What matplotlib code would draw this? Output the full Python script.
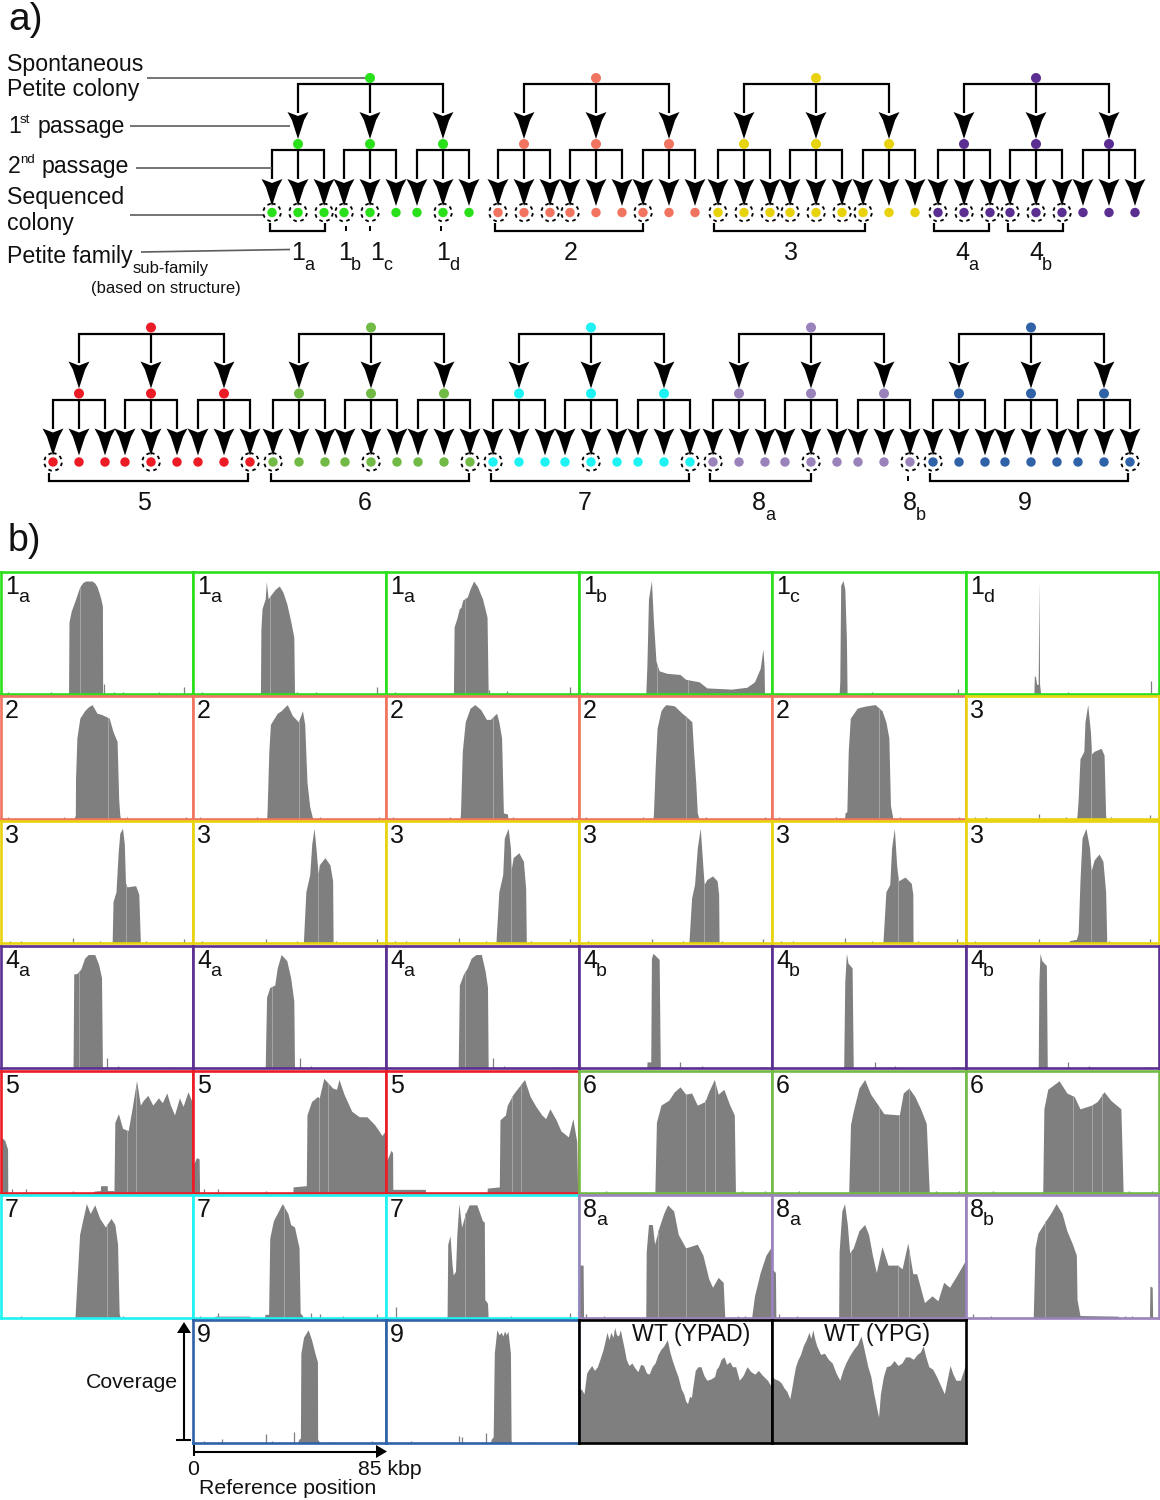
import numpy as np
import matplotlib
matplotlib.use('Agg')
import matplotlib.pyplot as plt
from matplotlib.patches import Polygon, Circle

plt.rcParams['font.family'] = ['Liberation Sans', 'DejaVu Sans']

# family colours
GREEN = '#2ae01a'
SALMON = '#f0745f'
YELLOW = '#e8d20e'
PURPLE = '#5b2e92'
RED = '#ec1c26'
OLIVE = '#72ba46'
CYAN = '#1ff2f2'
LAVENDER = '#9a82bb'
BLUE = '#2f62a7'
BLACK = '#000000'
GRAY = '#7f7f7f'
STREAK = '#a6a6a6'

# family trees: root x, colour, which sequenced colonies are circled
tree_roots = [370, 596, 816, 1036, 151, 371, 591, 811, 1031]
tree_rows = [0, 0, 0, 0, 1, 1, 1, 1, 1]
tree_colors = [GREEN, SALMON, YELLOW, PURPLE, RED, OLIVE, CYAN, LAVENDER, BLUE]
tree_circled = [[0, 1, 2, 3, 4, 7], [0, 1, 2, 3, 6], [0, 1, 2, 3, 4, 5, 6],
                [0, 1, 2, 3, 4, 5], [0, 4, 8], [0, 4, 8], [0, 4, 8], [0, 4, 8], [0, 8]]

# brackets under the sequenced colonies: row, x start, x end
brackets = [(0, 270, 325), (0, 346, 346), (0, 370, 370), (0, 441, 441), (0, 495, 643),
            (0, 714, 865), (0, 934, 989), (0, 1008, 1063),
            (1, 49, 248), (1, 271, 469), (1, 491, 689), (1, 710, 811), (1, 908, 908), (1, 930, 1128)]

# coverage profiles, (position in kbp, coverage in % of panel height)
p_1a_1 = [(29.9, 0), (30.1, 59), (31.1, 68), (32.3, 74), (33.6, 81), (34.5, 86), (35.3, 89), (36.3, 91.5), (37.5, 92.6), (40.3, 92.6), (41.5, 91), (42.5, 88), (43.4, 83), (44.2, 78), (44.9, 72), (45, 0)]
p_1a_2 = [(29.7, 0), (29.9, 53), (30.4, 70), (31.8, 78), (32.3, 92), (33.1, 78), (34.6, 82), (36.3, 86), (38, 88.5), (39.6, 83.5), (41.3, 74), (43, 60), (44.4, 46.6), (44.7, 0)]
p_1a_3 = [(29.7, 0), (30, 55), (31.2, 62), (32.3, 70), (33, 71), (33.8, 77), (35.8, 79.5), (37, 86), (38.6, 92.6), (40.3, 88), (42.5, 78), (44.5, 63), (45, 0)]
p_1b = [(29.4, 0), (29.9, 23), (30.6, 78), (31.9, 93), (32.8, 59), (33.9, 27), (35.3, 19), (38.6, 17), (44.5, 16), (47, 12), (52.9, 10), (56.3, 5), (67.2, 4), (73.9, 5.5), (77.3, 10), (79.8, 21), (81, 37), (81.5, 23), (81.7, 0)]
p_1c = [(29.4, 0), (29.7, 10), (30.1, 89), (31.1, 93), (31.9, 86), (32.6, 45), (32.9, 0)]
p_1d = [(29.9, 0), (30.1, 15), (30.6, 14), (31.1, 8), (31.8, 8), (32.1, 93), (32.4, 8), (32.9, 0)]

p_2_1 = [(32.2, 0), (32.9, 3), (33, 33), (33.6, 66), (34.9, 82), (37, 88), (38.6, 91), (40.3, 93), (42.5, 86), (44.5, 85), (47.9, 82), (49.6, 71), (51.4, 63), (52.1, 16), (52.6, 3), (53, 0)]
p_2_2 = [(32.4, 0), (32.6, 5), (33.4, 55), (34.1, 77), (37.1, 86), (38.8, 88), (41.5, 93), (43.8, 84), (46.4, 79), (48.2, 88), (49.2, 77), (50.2, 30), (51.4, 10), (52.6, 1), (53, 0)]
p_2_3 = [(32.6, 0), (32.8, 5), (33.6, 55), (34.9, 79), (37, 90), (39.1, 93), (41.7, 89), (44.2, 81), (46, 81), (48.7, 86), (49.7, 79), (50.9, 66), (51.7, 5), (53.5, 4), (53.7, 0)]
p_2_4 = [(32.6, 0), (32.8, 5), (33.6, 44), (34.4, 74), (36.1, 88), (37.2, 91), (38.3, 93), (42, 92), (45.4, 86), (48, 82), (49.7, 79), (50.4, 57), (51.4, 30), (52.1, 5), (52.9, 0)]
p_2_5 = [(31.8, 0), (32, 5), (32.8, 6), (33.4, 55), (34.3, 82), (37.3, 90), (39, 91), (41.5, 92), (45.2, 93), (48.2, 88), (49.9, 79), (51.2, 66), (51.9, 11), (52.9, 1), (53.2, 0)]
p_3_1 = [(48.6, 0), (48.9, 3), (49.4, 16), (50.2, 49), (51.9, 55), (52.4, 79), (53.6, 93), (54.8, 71), (55.3, 53), (56.4, 55), (59.5, 57.5), (60.8, 52), (61.5, 3), (61.7, 0)]

p_3_2 = [(49.2, 0), (49.6, 34), (50.9, 42), (51.9, 75), (52.6, 90), (53.8, 94), (54.6, 81), (55.1, 49), (55.8, 46), (59.6, 47), (61, 40), (61.7, 0)]
p_3_3 = [(48.6, 0), (49.7, 42), (51.4, 56), (52.3, 81), (53.3, 94), (54.3, 75), (55.1, 56), (55.6, 64), (58.1, 70), (60.3, 64), (61.5, 51), (61.7, 0)]
p_3_4 = [(48.4, 0), (49.7, 42), (51.4, 56), (52.1, 86), (53.8, 94), (54.8, 78), (55.1, 60), (56, 70), (58.5, 74), (60.5, 67), (61.5, 45), (61.8, 0)]
p_3_5 = [(48.4, 0), (49.6, 37), (50.9, 48), (52.1, 78), (53.4, 94), (54.4, 67), (55.1, 48), (56.3, 52), (58.8, 55), (60.8, 51), (61.5, 40), (61.7, 0)]
p_3_6 = [(48.6, 0), (49.9, 42), (51.6, 48), (52.4, 78), (53.6, 94), (54.6, 64), (55.4, 51), (58.3, 54), (61, 49), (61.7, 40), (61.8, 0)]
p_3_7 = [(45.4, 0), (45.6, 2), (48.6, 3), (49.4, 8), (50.2, 51), (51.1, 86), (52.8, 94), (54.4, 78), (55.1, 59), (56.4, 68), (58.6, 73), (60.3, 67), (61.5, 42), (62, 0)]

p_4a_1 = [(31.9, 0), (32.2, 77), (33.6, 77.5), (35.3, 81), (37, 90), (38.6, 93), (41.5, 93), (43.2, 85), (44.5, 74), (44.9, 0)]
p_4a_2 = [(31.8, 0), (32.4, 58), (33.8, 66), (36, 68), (37.1, 82), (38.8, 93), (41.3, 88), (43, 74), (44.4, 55), (44.7, 0)]
p_4a_3 = [(31.8, 0), (32.3, 68), (34.1, 77), (35.8, 82), (37.5, 90), (39.6, 93), (42, 93), (43.7, 79), (44.7, 66), (45, 0)]
p_4b_1 = [(29.8, 0), (30, 5), (31.6, 5), (31.9, 90), (32.6, 94), (35.3, 89), (35.8, 0)]
p_4b_2 = [(31.4, 0), (31.9, 71), (32.6, 94), (33.3, 86), (35.1, 82), (35.6, 0)]
p_4b_3 = [(31.8, 0), (32.1, 71), (32.6, 94), (33.4, 88), (35.4, 84), (35.8, 0)]

p_5_1 = [(0, 46), (1.7, 43), (2.9, 36), (3, 0), (41, 0), (41.1, 1.5), (44, 2), (44.1, 6), (47, 6), (47.1, 2), (49.9, 2), (50, 0), (50.4, 58), (52, 65), (53.8, 53), (56.3, 51), (58, 69), (60, 92), (61.7, 72), (63, 76), (65, 80), (67.2, 72), (69.7, 78), (71.4, 74), (73.4, 82), (75, 72), (76.8, 64), (79, 78), (80.6, 71), (82.8, 83), (84.5, 75), (85, 72)]
p_5_2 = [(0, 22), (1.5, 29), (2.7, 28), (2.9, 0), (44, 0), (44.1, 5), (49.9, 6), (50.2, 64), (52.2, 75), (54.8, 79), (55.6, 78), (57.6, 94), (61.5, 86), (63.2, 85), (64.3, 93), (66.5, 81), (69.9, 67), (73.2, 62.5), (76.6, 62.5), (80, 56), (83.3, 47), (84.2, 50), (84.7, 45), (85, 0)]
p_5_3 = [(0, 25), (2.2, 35), (2.9, 33), (3, 3), (17.3, 3), (17.4, 0), (44.5, 0), (44.6, 4), (49.9, 5), (50.2, 60), (52.6, 64), (53.4, 72), (56, 81), (61, 93), (63.5, 79), (66, 71), (68.6, 64), (70.3, 61), (72.2, 69), (74.9, 60), (77, 51), (80.3, 46), (82.3, 61), (84, 42), (84.4, 0)]
p_6_1 = [(33.4, 0), (34.1, 58), (36.1, 72), (39.5, 76), (42, 83), (44.5, 87), (47, 81), (49.6, 82), (52.1, 72), (55.5, 75), (57.1, 83), (59.6, 93), (61.3, 81), (63.8, 85), (66.4, 72), (68.4, 64), (68.9, 0)]
p_6_2 = [(33.6, 0), (34.4, 56), (35.6, 67), (38.1, 86), (40.6, 93), (43.2, 81), (46.5, 72), (49, 65), (55.8, 64), (57.5, 82), (60, 86), (62.6, 79), (65.1, 69), (67.6, 57), (68.4, 22), (68.9, 0)]
p_6_3 = [(33.8, 0), (34.3, 69), (36, 85), (41, 92), (44.4, 82), (47.7, 79), (50.2, 69), (55.3, 72), (57.8, 75), (60.8, 83), (63.7, 76), (68.2, 69), (68.7, 36), (69.2, 0)]

p_7_1 = [(32.6, 0), (32.8, 2), (33.6, 29), (34.8, 68), (36.1, 79), (37.8, 93), (39.5, 85), (41.5, 92), (43.7, 81), (46.2, 74), (48.7, 81), (50.4, 76), (51.6, 60), (52.3, 4), (52.8, 0)]
p_7_2 = [(9.6, 0), (9.7, 1.5), (25, 1.5), (25.1, 0), (31.5, 0), (31.7, 3), (33.3, 3), (33.8, 65), (35.4, 79), (39.3, 93), (41.8, 85), (43, 76), (44.7, 74), (46.7, 57), (47.2, 4), (48.2, 2), (48.4, 0)]
p_7_3 = [(26.9, 0), (27.2, 60), (28.2, 67), (29.1, 43), (29.6, 35), (30.6, 38), (31.2, 68), (32.1, 93), (33.3, 74), (35, 85), (36.6, 92), (40, 92), (42.5, 79), (43.3, 78), (43.5, 15), (44.7, 12), (45, 0)]
p_8a_1 = [(0, 43), (1.8, 43), (2, 0), (29.4, 0), (29.6, 54), (30.6, 76), (32.3, 76), (33.3, 60), (35.3, 74), (37.3, 85), (39, 92), (41.7, 87), (43.7, 68), (47, 57), (52.1, 60), (54.6, 51), (57.1, 32), (58.8, 25), (61.3, 33), (63.5, 29), (64.2, 0), (76, 0), (77.3, 18), (79.8, 37), (82.3, 51), (84.4, 57), (85, 45)]
p_8a_2 = [(0, 40), (1.5, 37), (1.7, 0), (29.2, 0), (29.4, 54), (30.6, 87), (31.8, 93), (33, 76), (34, 53), (35.6, 57), (38.1, 71), (40.6, 76), (42.3, 68), (44, 51), (45.7, 37), (48.2, 58), (50.8, 43), (55, 43), (57, 40), (59.5, 61), (61.7, 36), (63.4, 36), (66.8, 12.5), (70.1, 18), (72.7, 14), (75.2, 29), (77.8, 25), (81.1, 35), (84.5, 46), (85, 45)]
p_8b = [(29.6, 0), (30.4, 57), (31.7, 69), (35.1, 79), (37.6, 86), (39.7, 93), (42.3, 85), (44.4, 71), (46.9, 60), (48.6, 51), (48.9, 15), (50.2, 2), (67, 1.5), (67.1, 0), (80.8, 0), (81, 26), (82, 25), (82.2, 0)]

p_9_1 = [(46, 0), (46.6, 3), (47.3, 4), (47.5, 73), (48.7, 86), (50.7, 92), (52.2, 84), (53.7, 73), (54.8, 66), (54.9, 3), (56, 0)]
p_9_2 = [(46, 0), (46.3, 3), (47.2, 5), (47.7, 73), (48.8, 92), (49.8, 88), (50.7, 90), (51.5, 87), (52.2, 91), (53, 88), (53.7, 91), (54.8, 73), (55.1, 2), (55.4, 0)]
p_wt_ypad = [(0, 43), (1, 44), (2.2, 40), (3.4, 57), (4.4, 60), (5.6, 63), (6.8, 59), (8.1, 62), (9.2, 68), (10.6, 76), (11.5, 83), (12.3, 90), (13.2, 84), (14, 90), (15, 86), (15.7, 94), (16.5, 88), (17.4, 87), (18.2, 92), (19.1, 84), (20, 76), (20.8, 68), (22, 63), (23.3, 65), (24.6, 61), (25.9, 58), (27.2, 64), (28.4, 63), (29.7, 57), (30.9, 56), (32.2, 62), (33.5, 65), (34.8, 72), (36, 76), (37.4, 79), (38.9, 84), (40, 74), (41.1, 67), (42.4, 60), (43.6, 54), (45, 44), (46.1, 40), (47, 34), (47.8, 32), (48.7, 38), (49.5, 37), (50.3, 48), (51.2, 59), (52.4, 62), (53.7, 62), (55, 55), (56.3, 51), (58, 52), (59.7, 54), (60.5, 60), (61.4, 62), (62.6, 68), (63.9, 70), (65, 64), (66.4, 66), (67.6, 62), (69, 62), (70.6, 51), (72.3, 55), (74, 62), (75.7, 58), (77.4, 56), (79, 59), (80.8, 55), (83, 51), (85, 45)]
p_wt_ypg = [(0, 54), (1.3, 52), (2.7, 51), (4, 49), (5.2, 45), (6.5, 42), (7.8, 36), (8.6, 44), (9.5, 54), (10.3, 62), (11.2, 67), (12.5, 72), (13.7, 79), (15, 84), (16.2, 90), (17, 85), (17.9, 92), (18.8, 84), (19.6, 79), (21.3, 72), (23, 73), (24.7, 68), (26.4, 65), (28, 57), (29.7, 51), (31, 59), (32.3, 65), (34, 71), (35.7, 76), (37.4, 80), (39, 87), (39.9, 80), (40.7, 73), (42, 62), (43.3, 54), (44.6, 40), (45.8, 29), (46.7, 21), (47.5, 40), (48.8, 54), (50.1, 62), (51.8, 63), (53.5, 67), (55.2, 63), (56.9, 65), (58.5, 70), (60.2, 70), (61.9, 68), (63.6, 72), (65, 74), (66.2, 79), (67.4, 70), (68.7, 62), (70.4, 60), (72.1, 54), (73.8, 47), (75.5, 40), (76.8, 52), (78, 63), (79.3, 56), (80.6, 51), (82.5, 51), (83.8, 58), (85, 65)]

# spikes off the baseline: (kbp, %)
s_1a_1 = [(3, 1.5), (22, 1.5), (45.7, 8), (50, 2), (54, 2), (70, 1.5), (81.2, 6)]
s_1a_2 = [(4, 1.5), (46, 2), (54, 2), (81.2, 6)]
s_1a_3 = [(4, 1.5), (45.5, 3), (53.5, 2.5), (81.2, 6)]
s_1b = [(3.5, 2), (60, 1)]
s_1c = [(4, 1), (44, 1.5), (81.5, 4)]
s_1d = [(45, 1.5), (81.5, 11)]
s_2 = [(3, 2), (28, 2), (56, 1.5), (82, 1.5)]
s_3a = [(4, 2), (9, 2), (32, 4), (44, 2), (64, 1.5), (81, 3)]
s_3b = [(4, 2), (32, 3), (46, 2), (63, 2), (81, 3)]
s_4a = [(43, 0), (47, 8), (52, 1.5), (74, 1)]
s_4b_1 = [(44.5, 5), (54, 2), (81, 1)]
s_4b_2 = [(45, 5), (54, 2), (81, 1)]
s_5 = [(5, 3), (11, 3), (32, 2)]
s_6 = [(3, 1), (12, 1.5), (72, 2), (82, 1.5)]
s_7_1 = [(4, 1), (9, 1.5), (54, 1.5), (70, 1)]
s_7_2 = [(3, 2), (11, 4), (52, 4), (56, 3), (66, 2), (81, 3)]
s_7_3 = [(4.2, 9), (55, 1.5), (66, 1), (81, 4)]
s_8 = [(3, 3), (11, 1.5), (70, 1.5), (73, 1.5)]
s_9_1 = [(5, 1.5), (12.8, 3), (32, 7), (35, 2), (44.5, 9), (62, 1), (79, 1.5)]
s_9_2 = [(11, 2), (32, 6), (33.5, 5), (44.2, 8), (65, 1), (80, 1)]
s_none = []

# light vertical streaks inside the pileups (kbp)
panels = [
    # row, col, digit, subscript, colour, profile, spikes, streaks
    (0, 0, '1', 'a', GREEN, p_1a_1, s_1a_1, [35]),
    (0, 1, '1', 'a', GREEN, p_1a_2, s_1a_2, [33.8]),
    (0, 2, '1', 'a', GREEN, p_1a_3, s_1a_3, [35]),
    (0, 3, '1', 'b', GREEN, p_1b, s_1b, [34.5, 48]),
    (0, 4, '1', 'c', GREEN, p_1c, s_1c, []),
    (0, 5, '1', 'd', GREEN, p_1d, s_1d, []),
    (1, 0, '2', '', SALMON, p_2_1, s_2, [47.4]),
    (1, 1, '2', '', SALMON, p_2_2, s_2, [46.7]),
    (1, 2, '2', '', SALMON, p_2_3, s_2, [47]),
    (1, 3, '2', '', SALMON, p_2_4, s_2, [47]),
    (1, 4, '2', '', SALMON, p_2_5, s_2, [47]),
    (1, 5, '3', '', YELLOW, p_3_1, s_3a, [55.2]),
    (2, 0, '3', '', YELLOW, p_3_2, s_3a, [55.2]),
    (2, 1, '3', '', YELLOW, p_3_3, s_3b, [55.2]),
    (2, 2, '3', '', YELLOW, p_3_4, s_3a, [55.2]),
    (2, 3, '3', '', YELLOW, p_3_5, s_3b, [55.2]),
    (2, 4, '3', '', YELLOW, p_3_6, s_3a, [55.2]),
    (2, 5, '3', '', YELLOW, p_3_7, s_3b, [55.2]),
    (3, 0, '4', 'a', PURPLE, p_4a_1, s_4a, [34.6]),
    (3, 1, '4', 'a', PURPLE, p_4a_2, s_4a, [34.6]),
    (3, 2, '4', 'a', PURPLE, p_4a_3, s_4a, [34.6]),
    (3, 3, '4', 'b', PURPLE, p_4b_1, s_4b_1, []),
    (3, 4, '4', 'b', PURPLE, p_4b_2, s_4b_2, []),
    (3, 5, '4', 'b', PURPLE, p_4b_3, s_4b_2, []),
    (4, 0, '5', '', RED, p_5_1, s_5, [56, 59.6]),
    (4, 1, '5', '', RED, p_5_2, s_5, [55.6, 59.5]),
    (4, 2, '5', '', RED, p_5_3, s_none, [55.5, 59.6]),
    (4, 3, '6', '', OLIVE, p_6_1, s_6, [47, 55.7, 60]),
    (4, 4, '6', '', OLIVE, p_6_2, s_6, [47, 55.7, 60]),
    (4, 5, '6', '', OLIVE, p_6_3, s_6, [47, 55.7, 60]),
    (5, 0, '7', '', CYAN, p_7_1, s_7_1, [47]),
    (5, 1, '7', '', CYAN, p_7_2, s_7_2, [40]),
    (5, 2, '7', '', CYAN, p_7_3, s_7_3, [35]),
    (5, 3, '8', 'a', LAVENDER, p_8a_1, s_8, [35, 47]),
    (5, 4, '8', 'a', LAVENDER, p_8a_2, s_8, [34.5, 55, 60]),
    (5, 5, '8', 'b', LAVENDER, p_8b, s_8, [35]),
    (6, 1, '9', '', BLUE, p_9_1, s_9_1, []),
    (6, 2, '9', '', BLUE, p_9_2, s_9_2, []),
    (6, 3, '', '', BLACK, p_wt_ypad, s_none, []),
    (6, 4, '', '', BLACK, p_wt_ypg, s_none, []),
]

col_edges = [1, 193, 386, 579, 772, 966, 1159]
row_tops = [572, 696, 821, 946, 1071, 1195, 1320]
row_bottoms = [694, 819, 943, 1068, 1193, 1318, 1443]

W, H = 1160, 1500
fig = plt.figure(figsize=(W / 100, H / 100), dpi=100)

# overlay in pixel coordinates for the tree and the labels
ax = fig.add_axes([0, 0, 1, 1], zorder=10)
ax.set_xlim(0, W)
ax.set_ylim(H, 0)
ax.axis('off')
ax.patch.set_alpha(0)


def txt(x, y, s, size=16.7, ha='left', color='#111111'):
    ax.text(x, y, s, fontsize=size, ha=ha, va='baseline', color=color)


def arrowhead(x, y_top, width=21, length=27, notch=4):
    # barbed head, the flanks bow in a little below the wing tips
    pts = [(x - width / 2, y_top), (x, y_top + notch), (x + width / 2, y_top),
           (x + width * 0.29, y_top + length * 0.3), (x, y_top + length),
           (x - width * 0.29, y_top + length * 0.3)]
    ax.add_patch(Polygon(pts, closed=True, fc='black', ec='none', zorder=3))


def line(xs, ys, lw=1.6, color='black', **kw):
    ax.plot(xs, ys, color=color, lw=lw, solid_capstyle='butt', solid_joinstyle='miter', **kw)


def draw_tree(root, row, color, circled):
    dy = 250 * row
    if row == 1:
        dy = 249.5
    node = dict(fc=color, ec='none', zorder=5)
    ax.add_patch(Circle((root, 78 + dy), 5, **node))
    line([root - 72, root - 72, root + 73, root + 73], [113 + dy, 84 + dy, 84 + dy, 113 + dy])
    line([root, root], [84 + dy, 113 + dy])
    n = 0
    for c in (-72, 0, 73):
        cx = root + c
        arrowhead(cx, 112 + dy)
        ax.add_patch(Circle((cx, 144 + dy), 5, **node))
        line([cx - 26, cx - 26, cx + 26, cx + 26], [179 + dy, 150 + dy, 150 + dy, 179 + dy])
        line([cx, cx], [150 + dy, 179 + dy])
        for l in (-26, 0, 26):
            lx = cx + l
            arrowhead(lx, 179 + dy)
            ax.add_patch(Circle((lx, 212.5 + dy), 4.7, **node))
            if n in circled:
                ax.add_patch(Circle((lx, 212.5 + dy), 8.8, fc='none', ec='black', lw=1.3,
                                    ls=(0, (2, 2)), zorder=4))
            n += 1


for root, row, color, circled in zip(tree_roots, tree_rows, tree_colors, tree_circled):
    draw_tree(root, row, color, circled)

for row, x0, x1 in brackets:
    y = 231 if row == 0 else 481
    if x0 == x1:
        line([x0, x0], [y - 5, y], lw=1.4)
    else:
        line([x0, x0, x1, x1], [y - 8, y, y, y - 8], lw=1.6)

# panel a labels
txt(8, 30, 'a)', 28)
txt(8, 551, 'b)', 27)
txt(7, 71, 'Spontaneous')
txt(7, 96, 'Petite colony')
txt(8, 133, '1')
txt(20, 123, 'st', 9.5)
txt(38, 133, 'passage')
txt(8, 173, '2')
txt(20, 163, 'nd', 9.5)
txt(42, 173, 'passage')
txt(7, 204, 'Sequenced')
txt(7, 230, 'colony')
txt(7, 263, 'Petite family')
txt(133, 273, 'sub-family', 12)
txt(91, 293, '(based on structure)', 12)

leader = '#5c5c5c'
line([147, 366], [78, 78], lw=1.2, color=leader)
line([130, 290], [126, 126], lw=1.2, color=leader)
line([136, 272], [167.5, 167.5], lw=1.2, color=leader)
line([130, 263], [214.5, 214.5], lw=1.2, color=leader)
line([141, 290], [252, 249.5], lw=1.2, color=leader)

family_labels = [('1', 'a', 291, 260), ('1', 'b', 338, 260), ('1', 'c', 370, 260), ('1', 'd', 436, 260),
                 ('2', '', 564, 260), ('3', '', 784, 260), ('4', 'a', 955, 260), ('4', 'b', 1029, 260),
                 ('5', '', 137, 510), ('6', '', 358, 510), ('7', '', 578, 510), ('8', 'a', 752, 510),
                 ('8', 'b', 903, 510), ('9', '', 1018, 510)]
for digit, sub, x, y in family_labels:
    txt(x, y, digit, 18)
    if sub:
        txt(x + 13, y + 10, sub, 13)

# coverage panels
for row, col, digit, sub, color, profile, spikes, streaks in panels:
    x0, x1 = col_edges[col], col_edges[col + 1]
    y0, y1 = row_tops[row], row_bottoms[row]
    pax = fig.add_axes([x0 / W, 1 - y1 / H, (x1 - x0) / W, (y1 - y0) / H], zorder=2)
    kb = np.array([p[0] for p in profile])
    cov = np.array([p[1] for p in profile])
    pax.fill_between(kb, cov, 0, color=GRAY, lw=0)
    for s in streaks:
        pax.vlines(s, 0, np.interp(s, kb, cov), color=STREAK, lw=0.7)
    for sx, sy in spikes:
        pax.vlines(sx, 0, sy, color=GRAY, lw=0.9)
    pax.set_xlim(0, 85)
    pax.set_ylim(0, 100)
    pax.set_xticks([])
    pax.set_yticks([])
    for sp in pax.spines.values():
        sp.set_color(color)
        sp.set_linewidth(1.9)
    if digit:
        txt(x0 + 4, y0 + 22, digit, 18)
    if sub:
        txt(x0 + 17, y0 + 30, sub, 14)

txt(691, 1341, 'WT (YPAD)', 16.7, ha='center')
txt(877, 1341, 'WT (YPG)', 16.7, ha='center')

# axis key next to the bottom row
line([184, 184], [1440, 1330], lw=1.5)
line([176, 191], [1440, 1440], lw=1.5)
ax.add_patch(Polygon([(177, 1333), (191, 1333), (184, 1322)], closed=True, fc='black', ec='none'))
line([194, 378], [1451.5, 1451.5], lw=1.5)
line([194, 194], [1445, 1456], lw=1.5)
ax.add_patch(Polygon([(376, 1445), (376, 1458), (387, 1451.5)], closed=True, fc='black', ec='none'))
txt(86, 1388, 'Coverage', 15.3)
txt(187, 1475, '0', 15.3)
txt(358, 1475, '85 kbp', 15.3)
txt(199, 1494, 'Reference position', 15.3)

fig.savefig('out.png', dpi=100, facecolor='white')
